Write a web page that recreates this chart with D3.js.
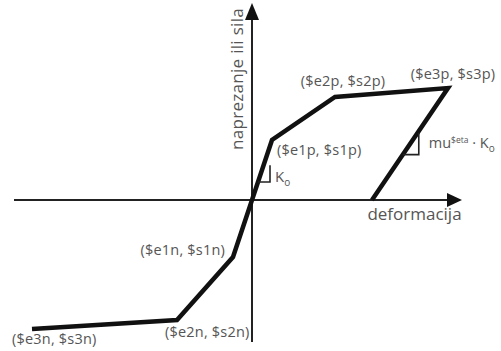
<!DOCTYPE html>
<html>
<head>
<meta charset="utf-8">
<script src="https://cdn.jsdelivr.net/npm/d3@7"></script>
<style>
  html, body { margin: 0; padding: 0; background: #fff; }
  svg { display: block; }
  text { font-family: "Open Sans", sans-serif; fill: #555; }
</style>
</head>
<body>
<svg id="chart" width="501" height="351"></svg>
<script>
// Backbone points of the hysteretic force–deformation model (abstract units)
const pointNames = ["$e3n", "$e2n", "$e1n", "0", "$e1p", "$e2p", "$e3p", "unload"];
const deformation = [-22.0, -7.5, -1.9, 0, 2.0, 8.3, 19.6, 12.0];
const force       = [-12.9, -12.0, -5.7, 0, 6.0, 10.3, 11.2, 0];

// Point labels: [text, index of point]
const pointLabels = [
  ["($e3p, $s3p)", 6],
  ["($e2p, $s2p)", 5],
  ["($e1p, $s1p)", 4],
  ["($e1n, $s1n)", 2],
  ["($e2n, $s2n)", 1],
  ["($e3n, $s3n)", 0]
];
const axisLabels = { x: "deformacija", y: "naprezanje ili sila" };

const svg = d3.select("#chart");
const x = d3.scaleLinear().domain([-23.8, 21.0]).range([14, 462]);
const y = d3.scaleLinear().domain([-14.2, 19.7]).range([342, 3]);

// axes
svg.append("line").attr("x1", x(-23.8)).attr("x2", x(20.0)).attr("y1", y(0)).attr("y2", y(0))
  .attr("stroke", "#222").attr("stroke-width", 2);
svg.append("line").attr("x1", x(0)).attr("x2", x(0)).attr("y1", y(-14.2)).attr("y2", y(18.0))
  .attr("stroke", "#222").attr("stroke-width", 2);
// arrow heads
svg.append("path")
  .attr("d", `M${x(21.0)},${y(0)} L${x(21.0) - 15},${y(0) - 7} L${x(21.0) - 15},${y(0) + 7}Z`)
  .attr("fill", "#111");
svg.append("path")
  .attr("d", `M${x(0)},${y(19.7)} L${x(0) - 7},${y(19.7) + 17} L${x(0) + 7},${y(19.7) + 17}Z`)
  .attr("fill", "#111");

// backbone curve plus unloading branch
const line = d3.line().x(i => x(deformation[i])).y(i => y(force[i]));
svg.append("path").datum(d3.range(deformation.length))
  .attr("d", line).attr("fill", "none").attr("stroke", "#111")
  .attr("stroke-width", 4.5).attr("stroke-linejoin", "miter");

// slope marker: horizontal leg from the segment point at t0, then a vertical leg
// of width w up to the height of the segment point at t1
function slopeMarker(a, b, t0, t1, w) {
  const xa = x(deformation[a]), ya = y(force[a]);
  const xb = x(deformation[b]), yb = y(force[b]);
  const bot = [xa + (xb - xa) * t0, ya + (yb - ya) * t0];
  const topY = ya + (yb - ya) * t1;
  const corner = [bot[0] + w, bot[1]];
  svg.append("path")
    .attr("d", `M${bot[0]},${bot[1]} L${corner[0]},${corner[1]} L${corner[0]},${topY}`)
    .attr("fill", "none").attr("stroke", "#222").attr("stroke-width", 1.6);
  return { corner, topY };
}
const k0 = slopeMarker(3, 4, 0.3, 0.58, 12);
const ku = slopeMarker(7, 6, 0.405, 0.6, 16);

// K0 label
const k0t = svg.append("text").attr("x", k0.corner[0] + 5).attr("y", k0.corner[1]).attr("font-size", 15);
k0t.append("tspan").text("K");
k0t.append("tspan").attr("font-size", 10).attr("dy", 4).text("o");

// mu^$eta · K0 label
const mut = svg.append("text").attr("x", ku.corner[0] + 10).attr("y", ku.topY + 15).attr("font-size", 14.5);
mut.append("tspan").text("mu");
mut.append("tspan").attr("font-size", 8.5).attr("dy", -5).text("$eta");
mut.append("tspan").attr("dy", 5).text(" · K");
mut.append("tspan").attr("font-size", 10).attr("dy", 4).text("o");

// point labels: [dx, dy, anchor] relative to the point
const offsets = { 6: [5, -9, "middle"], 5: [8, -11, "middle"], 4: [5, 15, "start"],
                  2: [-8, -2, "end"], 1: [-12, 17, "start"], 0: [-20, 15, "start"] };
pointLabels.forEach(([txt, i]) => {
  const [dx, dy, anchor] = offsets[i];
  svg.append("text")
    .attr("x", x(deformation[i]) + dx)
    .attr("y", y(force[i]) + dy)
    .attr("text-anchor", anchor)
    .attr("font-size", 14.5)
    .attr("letter-spacing", 0.2)
    .text(txt);
});

// axis titles
svg.append("text").attr("x", x(16.25)).attr("y", y(0) + 20).attr("text-anchor", "middle")
  .attr("font-size", 17).text(axisLabels.x);
svg.append("text").attr("transform", `translate(${x(0) - 9},${y(12.1)}) rotate(-90)`)
  .attr("text-anchor", "middle").attr("font-size", 17).attr("letter-spacing", 0.3)
  .text(axisLabels.y);
</script>
</body>
</html>
